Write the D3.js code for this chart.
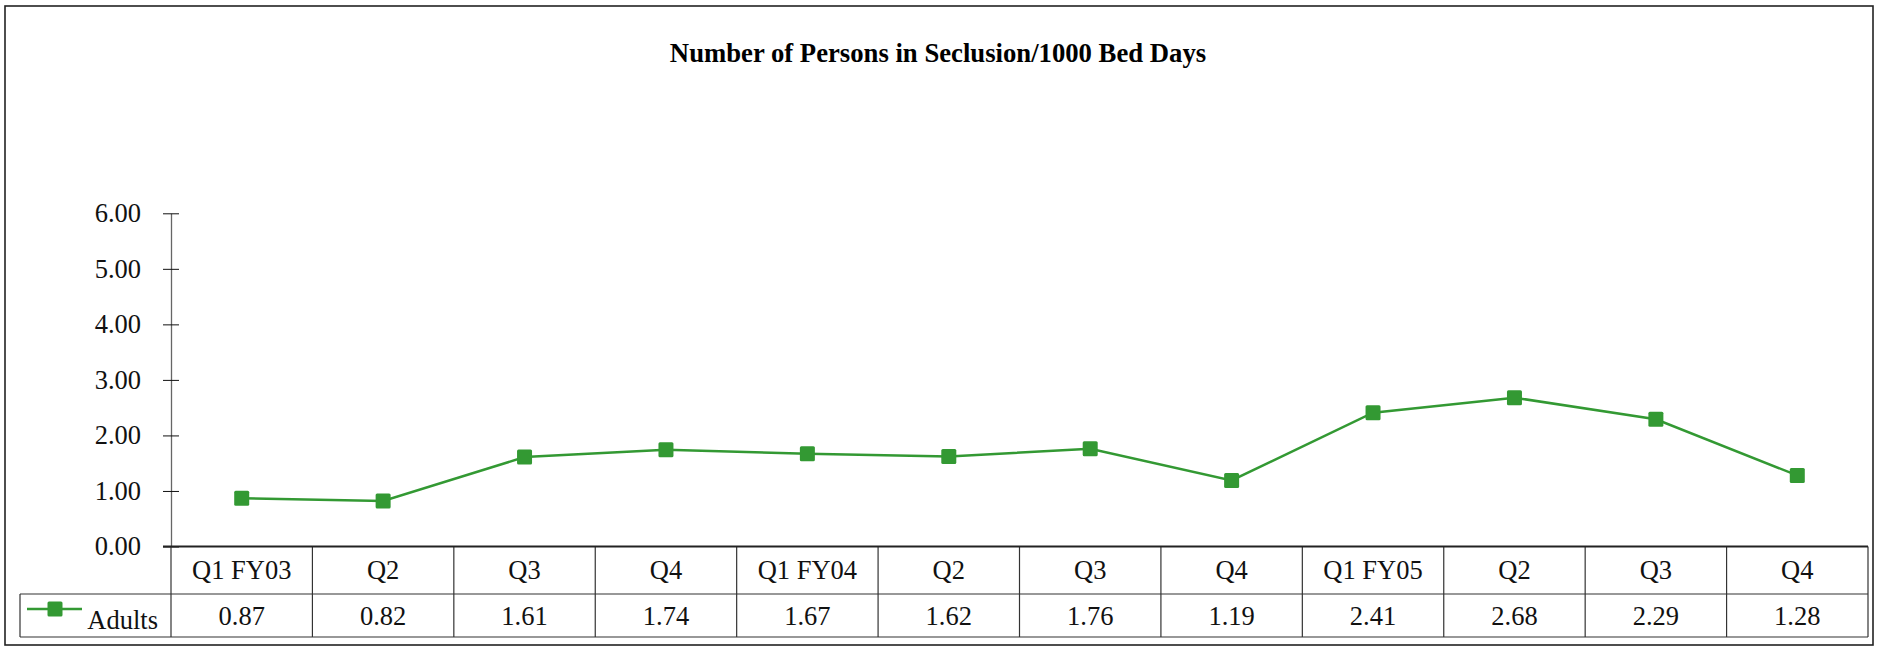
<!DOCTYPE html>
<html>
<head>
<meta charset="utf-8">
<script src="https://cdn.jsdelivr.net/npm/d3@7"></script>
<style>
  html, body { margin: 0; padding: 0; background: #fff; }
  svg { display: block; font-family: "Liberation Serif", "Times New Roman", serif; }
</style>
</head>
<body>
<svg id="chart" width="1877" height="648"></svg>
<script>
// Quarterly seclusion rate per 1000 bed days
const categories = ["Q1 FY03", "Q2", "Q3", "Q4", "Q1 FY04", "Q2", "Q3", "Q4", "Q1 FY05", "Q2", "Q3", "Q4"];
const adults = [0.87, 0.82, 1.61, 1.74, 1.67, 1.62, 1.76, 1.19, 2.41, 2.68, 2.29, 1.28];
const seriesName = "Adults";
const yTicks = [0, 1, 2, 3, 4, 5, 6];
const title = "Number of Persons in Seclusion/1000 Bed Days";

(function draw() {
  const color = "#339933";
  const fontSize = 26.5;
  const svg = d3.select("#chart");

  // outer frame
  svg.append("rect")
    .attr("x", 5).attr("y", 6).attr("width", 1868).attr("height", 639)
    .attr("fill", "#fff").attr("stroke", "#222").attr("stroke-width", 1.6);

  svg.append("text")
    .attr("x", 938).attr("y", 62)
    .attr("text-anchor", "middle")
    .attr("font-size", 26.7).attr("font-weight", "bold")
    .text(title);

  const plotLeft = 171, plotRight = 1868, plotTop = 213.3, plotBottom = 546.5;

  const x = d3.scaleBand().domain(d3.range(categories.length)).range([plotLeft, plotRight]);
  const y = d3.scaleLinear().domain([0, 6]).range([plotBottom, plotTop]);

  // y axis, cross tick marks
  const yAxis = svg.append("g").attr("transform", `translate(${plotLeft},0)`)
    .call(d3.axisLeft(y).tickValues(yTicks).tickFormat(d3.format(".2f"))
      .tickSizeInner(8).tickSizeOuter(0).tickPadding(22));
  yAxis.select(".domain").attr("stroke", "#666").attr("stroke-width", 1.3);
  yAxis.selectAll(".tick line").attr("stroke", "#111");
  yAxis.selectAll(".tick text")
    .attr("font-family", "Liberation Serif, serif")
    .attr("font-size", fontSize).attr("fill", "#111");

  const yAxisR = svg.append("g").attr("transform", `translate(${plotLeft},0)`)
    .call(d3.axisRight(y).tickValues(yTicks).tickFormat("").tickSizeInner(8).tickSizeOuter(0));
  yAxisR.select(".domain").remove();
  yAxisR.selectAll(".tick line").attr("stroke", "#111");

  // data table below the plot
  const rowHeader = [plotBottom, 594];
  const rowData = [594, 637];
  const tbl = svg.append("g").attr("stroke", "#333").attr("stroke-width", 1.2).attr("fill", "none");
  tbl.append("line").attr("x1", plotLeft).attr("x2", plotRight).attr("y1", rowHeader[1]).attr("y2", rowHeader[1]);
  tbl.append("line").attr("x1", 20).attr("x2", plotLeft).attr("y1", rowHeader[1]).attr("y2", rowHeader[1]);
  tbl.append("line").attr("x1", 20).attr("x2", plotRight).attr("y1", rowData[1]).attr("y2", rowData[1]);
  tbl.append("line").attr("x1", 20).attr("x2", 20).attr("y1", rowData[0]).attr("y2", rowData[1]);
  tbl.append("line").attr("x1", plotLeft).attr("x2", plotLeft).attr("y1", rowHeader[0]).attr("y2", rowData[1]);
  tbl.selectAll("line.col")
    .data(d3.range(categories.length))
    .join("line")
    .attr("class", "col")
    .attr("x1", i => x(i) + x.bandwidth()).attr("x2", i => x(i) + x.bandwidth())
    .attr("y1", rowHeader[0]).attr("y2", rowData[1]);

  // category axis line
  svg.append("line")
    .attr("x1", plotLeft - 8).attr("x2", plotRight)
    .attr("y1", plotBottom).attr("y2", plotBottom)
    .attr("stroke", "#222").attr("stroke-width", 2);

  svg.append("g").selectAll("text")
    .data(categories)
    .join("text")
    .attr("x", (d, i) => x(i) + x.bandwidth() / 2)
    .attr("y", 579)
    .attr("text-anchor", "middle")
    .attr("font-size", fontSize).attr("fill", "#111")
    .text(d => d);

  svg.append("g").selectAll("text")
    .data(adults)
    .join("text")
    .attr("x", (d, i) => x(i) + x.bandwidth() / 2)
    .attr("y", 625)
    .attr("text-anchor", "middle")
    .attr("font-size", fontSize).attr("fill", "#111")
    .text(d => d3.format(".2f")(d));

  // legend key in the table
  svg.append("line")
    .attr("x1", 27).attr("x2", 82).attr("y1", 609).attr("y2", 609)
    .attr("stroke", color).attr("stroke-width", 2.5);
  svg.append("rect")
    .attr("x", 47.5).attr("y", 601.5).attr("width", 15).attr("height", 15).attr("rx", 1.5)
    .attr("fill", color);
  svg.append("text")
    .attr("x", 158).attr("y", 629)
    .attr("text-anchor", "end")
    .attr("font-size", fontSize).attr("fill", "#111")
    .text(seriesName);

  // series line and markers
  const line = d3.line()
    .x((d, i) => x(i) + x.bandwidth() / 2)
    .y(d => y(d));
  svg.append("path")
    .datum(adults)
    .attr("d", line)
    .attr("fill", "none").attr("stroke", color).attr("stroke-width", 2.5);

  svg.append("g").selectAll("rect")
    .data(adults)
    .join("rect")
    .attr("x", (d, i) => x(i) + x.bandwidth() / 2 - 7.5)
    .attr("y", d => y(d) - 7.5)
    .attr("width", 15).attr("height", 15).attr("rx", 1.5)
    .attr("fill", color);
})();
</script>
</body>
</html>
